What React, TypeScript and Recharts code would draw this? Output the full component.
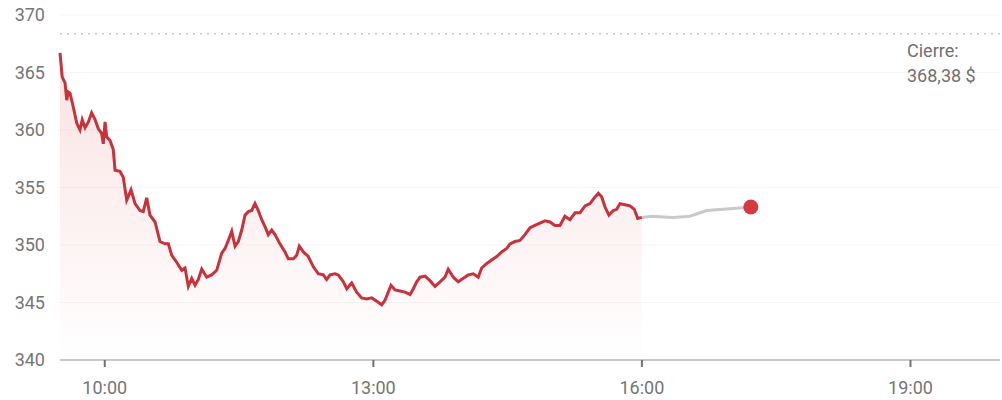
import * as React from "react";
import { ComposedChart, Area, Line, XAxis, YAxis, CartesianGrid, ReferenceLine, ReferenceDot } from "recharts";

// minutes since midnight
const sessionTimes = [
  570, 571.5, 573.4, 574.5, 575.6, 576.7, 578.9, 581.2, 583.4, 584.9,
  586.8, 589.0, 591.2, 593.5, 595.7, 597.9, 599.0, 600.2, 601.3, 603.5,
  605.7, 606.9, 610.2, 612.4, 614.7, 617.6, 620.3, 623.6, 625.8, 628.1,
  630.3, 633.7, 637.0, 640.4, 642.6, 644.9, 648.2, 651.6,
  653.8, 656.0, 658.3, 660.5, 662.7, 665.0, 668.3, 671.7, 675.0, 678.4,
  680.6, 682.8, 685.1, 687.3, 689.5, 691.8, 694.0, 696.2, 698.5, 700.7,
  702.9, 705.2, 707.4, 709.6, 711.9, 714.1, 717.4, 720.8, 723.0, 726.4,
  728.6, 730.4, 733.1,
  736.4, 739.8, 743.1, 746.5, 748.7, 751.0, 754.3, 756.5, 759.9, 762.2,
  765.5, 768.8, 772.2, 775.5, 778.9, 782.3, 785.6, 787.8, 790.0, 791.8,
  794.5, 797.9, 801.2, 804.6, 806.8, 809.1, 811.3, 814.6, 818.0,
  821.3, 824.7, 828.0, 830.2, 833.6, 836.9, 840.3, 843.6, 847.0, 850.3,
  852.6, 856.0, 859.3, 862.7, 866.0, 869.4, 871.6, 874.9, 878.3, 881.6,
  885.0, 888.3, 891.7, 895.0, 898.4, 901.7,
  905.1, 908.4, 911.8, 915.2, 918.5, 921.9, 925.2, 928.1, 930.8, 933.0,
  935.3, 937.9, 940.8, 943.1, 945.3, 948.7, 952.0, 954.9, 957.2, 960,
];
const sessionPrices = [
  366.7, 364.6, 364.1, 362.6, 363.3, 363.2, 362.0, 360.6, 360.0, 360.9,
  360.2, 360.7, 361.5, 360.9, 360.1, 359.7, 358.8, 360.7, 359.4, 359.1,
  358.3, 356.5, 356.4, 355.9, 353.9, 354.8, 353.6, 353.0, 352.9, 354.1,
  352.6, 352.0, 350.3, 350.1, 350.1, 349.1, 348.5, 347.8,
  348.0, 346.4, 347.1, 346.5, 347.0, 347.9, 347.2, 347.4, 347.8, 349.3,
  349.7, 350.4, 351.2, 349.9, 350.3, 351.3, 352.6, 352.9, 353.0, 353.6,
  353.0, 352.2, 351.6, 350.9, 351.3, 350.9, 350.1, 349.4, 348.8, 348.8,
  349.1, 349.9, 349.4,
  349.0, 348.1, 347.5, 347.4, 347.0, 347.4, 347.5, 347.4, 346.8, 346.2,
  346.7, 345.9, 345.4, 345.3, 345.4, 345.1, 344.8, 345.2, 345.9, 346.5,
  346.1, 346.0, 345.9, 345.7, 346.2, 346.8, 347.2, 347.3, 346.9,
  346.4, 346.8, 347.2, 347.9, 347.2, 346.8, 347.1, 347.4, 347.5, 347.2,
  348.0, 348.4, 348.7, 349.0, 349.4, 349.7, 350.1, 350.3, 350.4, 350.9,
  351.5, 351.7, 351.9, 352.1, 352.0, 351.7,
  351.7, 352.5, 352.2, 352.8, 352.8, 353.4, 353.6, 354.1, 354.5, 354.2,
  353.3, 352.6, 353.0, 353.1, 353.6, 353.5, 353.4, 353.1, 352.3, 352.4,
];
const afterTimes = [960, 966.6, 981.0, 992.2, 1003.4, 1023.5, 1033];
const afterPrices = [352.4, 352.5, 352.4, 352.5, 353.0, 353.2, 353.3];

const previousClose = 368.38;
const closeLabel = ["Cierre:", "368,38 $"];
const yTicks = [340, 345, 350, 355, 360, 365, 370];
const xTicks = [600, 780, 960, 1140];

const fmtTime = (m: number) => `${Math.floor(m / 60)}:${String(Math.round(m % 60)).padStart(2, "0")}`;

export default function App() {
  const rows = React.useMemo(() => {
    const byT: Record<string, any> = {};
    sessionTimes.forEach((t, i) => {
      byT[t] = { ...(byT[t] || { t }), price: sessionPrices[i] };
    });
    afterTimes.forEach((t, i) => {
      byT[t] = { ...(byT[t] || { t }), after: afterPrices[i] };
    });
    return Object.values(byT).sort((a: any, b: any) => a.t - b.t);
  }, []);

  const lastT = afterTimes[afterTimes.length - 1];
  const lastP = afterPrices[afterPrices.length - 1];

  return (
    <div style={{ position: "absolute", left: 0, top: 0, background: "#fff", fontFamily: "Roboto, sans-serif" }}>
      <ComposedChart width={1002} height={400} data={rows} margin={{ top: 15, right: 2, bottom: 0, left: 0 }}>
        <defs>
          <linearGradient id="redFill" x1="0" y1="0" x2="0" y2="1">
            <stop offset="0%" stopColor="#e0474c" stopOpacity={0.26} />
            <stop offset="100%" stopColor="#e0474c" stopOpacity={0} />
          </linearGradient>
        </defs>
        <CartesianGrid horizontal vertical={false} stroke="#f5f5f5" />
        <XAxis
          type="number"
          dataKey="t"
          domain={[570, 1200]}
          ticks={xTicks}
          tickFormatter={fmtTime}
          height={40}
          stroke="#b8b8b8"
          strokeWidth={1.5}
          tickSize={7}
          tickMargin={14}
          tickLine={{ stroke: "#707070", strokeWidth: 2 }}
          tick={{ fill: "#757575", fontSize: 18 }}
        />
        <YAxis
          domain={[340, 370]}
          ticks={yTicks}
          width={60}
          axisLine={false}
          tickLine={false}
          tickSize={0}
          tickMargin={15}
          tick={{ fill: "#757575", fontSize: 18 }}
          allowDataOverflow
        />
        <ReferenceLine
          y={previousClose}
          stroke="#c8c8c8"
          strokeWidth={1.5}
          strokeDasharray="2 5"
          label={(props: any) => {
            const vb = props.viewBox;
            const x = vb.x + vb.width - 93;
            return (
              <text x={x} y={vb.y + 23} fill="#707070" fontSize={18}>
                <tspan x={x}>{closeLabel[0]}</tspan>
                <tspan x={x} dy={25}>{closeLabel[1]}</tspan>
              </text>
            );
          }}
        />
        <Area
          type="linear"
          dataKey="price"
          stroke="#c9323a"
          strokeWidth={3}
          fill="url(#redFill)"
          dot={false}
          activeDot={false}
          isAnimationActive={false}
        />
        <Line
          type="linear"
          dataKey="after"
          stroke="#c9c9c9"
          strokeWidth={3}
          dot={false}
          activeDot={false}
          isAnimationActive={false}
        />
        <ReferenceDot x={lastT} y={lastP} r={7.5} fill="#d63a40" stroke="none" />
      </ComposedChart>
    </div>
  );
}
